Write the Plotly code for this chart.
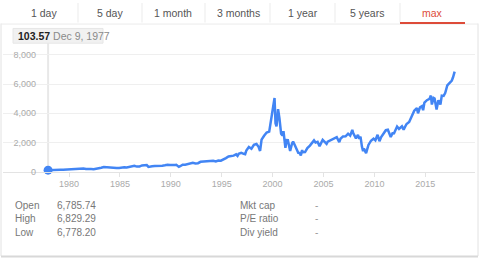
import plotly.graph_objects as go

W, H = 480, 263

dates = [
    "1977-12-09", "1978-03-01", "1978-06-01", "1978-09-01", "1978-12-01",
    "1979-03-01", "1979-06-01", "1979-09-01", "1979-12-01",
    "1980-03-01", "1980-06-01", "1980-09-01", "1980-12-01",
    "1981-03-01", "1981-06-01", "1981-09-01", "1981-12-01",
    "1982-03-01", "1982-06-01", "1982-09-01", "1982-12-01",
    "1983-03-01", "1983-06-01", "1983-09-01", "1983-12-01",
    "1984-03-01", "1984-06-01", "1984-09-01", "1984-12-01",
    "1985-03-01", "1985-06-01", "1985-09-01", "1985-12-01",
    "1986-03-01", "1986-06-01", "1986-09-01", "1986-12-01",
    "1987-03-01", "1987-06-01", "1987-08-20", "1987-10-20", "1987-12-01",
    "1988-03-01", "1988-06-01", "1988-09-01", "1988-12-01",
    "1989-03-01", "1989-06-01", "1989-09-01", "1989-12-01",
    "1990-03-01", "1990-06-01", "1990-07-15", "1990-10-15", "1990-12-01",
    "1991-03-01", "1991-06-01", "1991-09-01", "1991-12-01",
    "1992-03-01", "1992-06-01", "1992-09-01", "1992-12-01",
    "1993-03-01", "1993-06-01", "1993-09-01", "1993-12-01",
    "1994-03-01", "1994-06-01", "1994-09-01", "1994-12-01",
    "1995-03-01", "1995-06-01", "1995-09-01", "1995-12-01",
    "1996-03-01", "1996-06-01", "1996-07-20", "1996-09-01", "1996-12-01",
    "1997-03-01", "1997-04-20", "1997-06-01", "1997-09-01", "1997-12-01",
    "1998-03-01", "1998-06-01", "1998-08-15", "1998-10-08", "1998-12-01",
    "1999-03-01", "1999-06-01", "1999-09-01", "1999-11-01", "1999-12-20",
    "2000-03-10", "2000-04-14", "2000-05-20", "2000-07-15", "2000-09-01",
    "2000-11-01", "2000-12-20", "2001-01-25", "2001-04-04", "2001-05-20",
    "2001-07-01", "2001-09-21", "2001-12-01", "2002-01-05", "2002-03-01",
    "2002-06-01", "2002-07-20", "2002-08-20", "2002-10-09", "2002-11-25",
    "2002-12-20", "2003-03-10", "2003-06-01", "2003-09-01", "2003-12-01",
    "2004-01-25", "2004-03-20", "2004-06-01", "2004-08-12", "2004-12-01",
    "2005-03-01", "2005-04-20", "2005-06-01", "2005-09-01", "2005-12-01",
    "2006-03-01", "2006-04-20", "2006-07-20", "2006-09-01", "2006-12-01",
    "2007-03-05", "2007-06-01", "2007-08-15", "2007-10-31", "2007-12-01",
    "2008-03-10", "2008-05-20", "2008-07-10", "2008-08-20", "2008-10-10",
    "2008-11-20", "2008-12-20", "2009-03-09", "2009-06-01", "2009-09-01",
    "2009-12-01", "2010-02-05", "2010-04-25", "2010-07-01", "2010-09-01",
    "2010-12-01", "2011-02-15", "2011-04-29", "2011-06-20", "2011-08-10",
    "2011-10-25", "2011-11-25", "2012-03-25", "2012-06-01", "2012-09-15",
    "2012-11-15", "2012-12-20", "2013-03-01", "2013-06-01", "2013-09-01",
    "2013-12-01", "2014-03-05", "2014-04-15", "2014-06-25", "2014-09-01",
    "2014-10-15", "2014-12-01", "2015-03-01", "2015-06-01", "2015-07-20",
    "2015-08-25", "2015-10-25", "2015-12-01", "2016-02-10", "2016-04-15",
    "2016-06-27", "2016-08-15", "2016-10-20", "2016-12-15", "2017-03-01",
    "2017-06-01", "2017-08-10", "2017-09-20", "2017-10-25", "2017-11-20",
]

values = [
    103.57, 100, 118, 130, 117,
    130, 136, 150, 151,
    131, 157, 188, 202,
    208, 215, 180, 196,
    176, 171, 187, 232,
    270, 318, 296, 278,
    250, 239, 250, 247,
    280, 296, 280, 325,
    375, 405, 350, 349,
    430, 424, 455, 330, 330,
    375, 394, 387, 381,
    406, 435, 472, 454,
    435, 462, 470, 330, 373,
    482, 475, 527, 586,
    603, 563, 583, 677,
    690, 704, 762, 777,
    743, 706, 764, 752,
    817, 933, 1044, 1052,
    1101, 1185, 1080, 1227, 1291,
    1222, 1200, 1442, 1686, 1570,
    1835, 1895, 1700, 1420, 2193,
    2461, 2686, 2746, 3336, 4069,
    5048, 3321, 3100, 4289, 3673,
    2598, 2470, 2770, 1638, 2170,
    2160, 1423, 1950, 2060, 1845,
    1463, 1240, 1330, 1114, 1480,
    1335, 1341, 1622, 1786, 2003,
    2140, 1994, 2048, 1750, 2175,
    1999, 1904, 2057, 2151, 2205,
    2339, 2370, 2020, 2258, 2415,
    2421, 2603, 2470, 2859, 2652,
    2279, 2522, 2250, 2400, 1720,
    1400, 1577, 1268, 1835, 2122,
    2269, 2150, 2530, 2090, 2368,
    2653, 2840, 2873, 2650, 2380,
    2684, 2580, 3091, 2935, 3116,
    2880, 3020, 3267, 3403, 3771,
    4176, 4358, 4000, 4408, 4493,
    4213, 4736, 4900, 4986, 5218,
    4600, 5053, 5007, 4266, 4900,
    4600, 5213, 5190, 5383, 5911,
    6140, 6250, 6450, 6720, 6860,
]

x_tick_dates = ["1980-01-01", "1985-01-01", "1990-01-01", "1995-01-01",
                "2000-01-01", "2005-01-01", "2010-01-01", "2015-01-01"]
x_tick_labels = ["1980", "1985", "1990", "1995", "2000", "2005", "2010", "2015"]

y_ticks = [0, 2000, 4000, 6000, 8000]
y_tick_labels = ["0", "2,000", "4,000", "6,000", "8,000"]

tabs = ["1 day", "5 day", "1 month", "3 months", "1 year", "5 years", "max"]
tab_centers = [44, 110, 173, 238, 303, 367, 432]
tab_seps = [78, 142, 205, 270, 335, 400]

stat_names_left = ["Open", "High", "Low"]
stat_vals_left = ["6,785.74", "6,829.29", "6,778.20"]
stat_names_right = ["Mkt cap", "P/E ratio", "Div yield"]
stat_vals_right = ["-", "-", "-"]

tip_value = "103.57"
tip_date = "Dec 9, 1977"

FONT = "Arial, Liberation Sans, sans-serif"
BLUE = "#4285f4"
RED = "#dd4b39"


def px(x):
    return x / W


def py(y):
    return 1 - y / H


fig = go.Figure()
fig.add_trace(go.Scatter(
    x=dates, y=values, mode="lines",
    line=dict(color=BLUE, width=2.5), hoverinfo="skip", cliponaxis=True,
))
fig.add_trace(go.Scatter(
    x=[dates[0]], y=[values[0]], mode="markers",
    marker=dict(color=BLUE, size=9), hoverinfo="skip", cliponaxis=False,
))

shapes = []
annotations = []

# widget frame
shapes.append(dict(type="line", xref="paper", yref="paper", x0=px(1), x1=px(1), y0=py(24), y1=py(261),
                   line=dict(color="#e2e2e2", width=1)))
shapes.append(dict(type="line", xref="paper", yref="paper", x0=px(478), x1=px(478), y0=py(24), y1=py(261),
                   line=dict(color="#e2e2e2", width=1)))
shapes.append(dict(type="line", xref="paper", yref="paper", x0=px(1), x1=px(478), y0=py(261.5), y1=py(261.5),
                   line=dict(color="#d8d8d8", width=2)))
# tab bar bottom border
shapes.append(dict(type="line", xref="paper", yref="paper", x0=px(1), x1=px(478), y0=py(24.5), y1=py(24.5),
                   line=dict(color="#ebebeb", width=1)))
for s in tab_seps:
    shapes.append(dict(type="line", xref="paper", yref="paper", x0=px(s), x1=px(s), y0=py(3), y1=py(23),
                       line=dict(color="#ebebeb", width=1)))
# active tab underline
shapes.append(dict(type="line", xref="paper", yref="paper", x0=px(400), x1=px(465), y0=py(23.5), y1=py(23.5),
                   line=dict(color=RED, width=2)))
for name, cx in zip(tabs, tab_centers):
    annotations.append(dict(text=name, x=px(cx), y=py(13.5), xref="paper", yref="paper",
                            xanchor="center", yanchor="middle", showarrow=False,
                            font=dict(family=FONT, size=10.5, color=RED if name == "max" else "#555555")))

# hover crosshair
shapes.append(dict(type="line", xref="x", yref="paper", x0=dates[0], x1=dates[0], y0=py(44), y1=py(175),
                   line=dict(color="#e8e8e8", width=2), layer="below"))
# tooltip box
shapes.append(dict(type="rect", xref="paper", yref="paper", x0=px(13), x1=px(103), y0=py(29), y1=py(44),
                   fillcolor="#f1f1f1", line=dict(color="#e6e6e6", width=1)))
annotations.append(dict(
    text="<b>" + tip_value + "</b> <span style='color:#8a8a8a'>" + tip_date + "</span>",
    x=px(16), y=py(36.5), xref="paper", yref="paper", xanchor="left", yanchor="middle",
    showarrow=False, font=dict(family=FONT, size=10.5, color="#222222")))

# stats block
for i in range(3):
    yy = py(209.5 + 13.5 * i)
    annotations.append(dict(text=stat_names_left[i], x=px(13), y=yy, xref="paper", yref="paper",
                            xanchor="left", yanchor="middle", showarrow=False,
                            font=dict(family=FONT, size=10, color="#777777")))
    annotations.append(dict(text=stat_vals_left[i], x=px(55), y=yy, xref="paper", yref="paper",
                            xanchor="left", yanchor="middle", showarrow=False,
                            font=dict(family=FONT, size=10, color="#777777")))
    annotations.append(dict(text=stat_names_right[i], x=px(238), y=yy, xref="paper", yref="paper",
                            xanchor="left", yanchor="middle", showarrow=False,
                            font=dict(family=FONT, size=10, color="#777777")))
    annotations.append(dict(text=stat_vals_right[i], x=px(313), y=yy, xref="paper", yref="paper",
                            xanchor="left", yanchor="middle", showarrow=False,
                            font=dict(family=FONT, size=10, color="#999999")))

# axis geometry: 0 -> y px 175, 8000 -> y px 56
top_px, bot_px = 50, 175
unit_per_px = 8000 / (175 - 56)
y_top = (175 - top_px) * unit_per_px

fig.update_layout(
    width=W, height=H, margin=dict(l=0, r=0, t=0, b=0),
    paper_bgcolor="white", plot_bgcolor="white", showlegend=False,
    shapes=shapes, annotations=annotations,
    xaxis=dict(
        domain=[px(3), px(475)], type="date",
        range=["1973-07-05", "2019-11-20"],
        tickvals=x_tick_dates, ticktext=x_tick_labels,
        showgrid=False, zeroline=False,
        showline=True, linecolor="#e3e3e3", linewidth=1,
        ticks="outside", ticklen=4, tickcolor="#e3e3e3", tickwidth=1,
        tickfont=dict(family=FONT, size=9, color="#aaaaaa"),
        anchor="y", fixedrange=True,
    ),
    yaxis=dict(
        domain=[py(bot_px), py(top_px)], range=[0, y_top],
        tickvals=y_ticks, ticktext=y_tick_labels,
        showgrid=True, gridcolor="#efefef", gridwidth=1,
        zeroline=False, showline=False, ticks="",
        tickfont=dict(family=FONT, size=9, color="#aaaaaa"),
        anchor="free", position=px(36), fixedrange=True,
    ),
)

fig.write_html("out.html")
